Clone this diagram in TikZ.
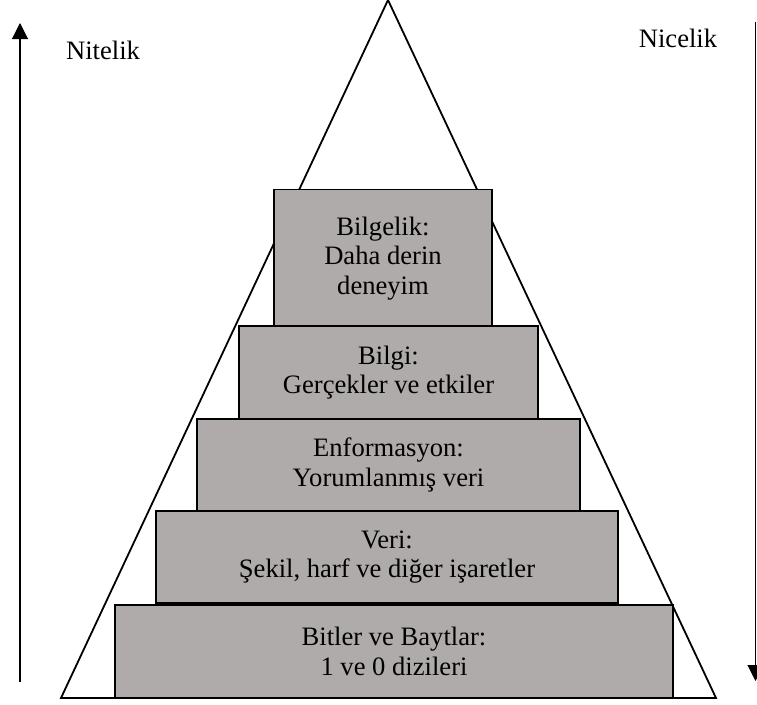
\documentclass[tikz,border=0pt]{standalone}
\usepackage{fontspec}
\setmainfont{Liberation Serif}
\usetikzlibrary{arrows.meta}
\definecolor{boxgray}{RGB}{175,171,171}
\begin{document}
\begin{tikzpicture}[x=1pt,y=-1pt,
  lvl/.style={draw=black, line width=1.6pt, fill=boxgray, inner sep=0pt, align=center,
    font=\fontsize{26.6}{29.5}\selectfont},
  lbl/.style={font=\fontsize{26.6}{29.5}\selectfont, inner sep=0pt},
  axis/.style={line width=1.1pt, -{Triangle[width=16pt,length=16pt]}}]
\useasboundingbox (0,0) rectangle (757,704);
\begin{scope}
\clip (0,0) rectangle (757,704);
% pyramid outline
\coordinate (apex) at (388,0);
\coordinate (bl) at (61,698);
\coordinate (br) at (716,698);
\draw[line width=1.8pt, line join=miter] (apex) -- (bl) -- (br) -- cycle;
% levels
\node[lvl, minimum width=218pt, minimum height=138pt] (bilgelik) at (383,258.5) {Bilgelik:\\Daha derin\\deneyim};
\node[lvl, minimum width=299pt, minimum height=93pt] (bilgi) at (388.5,372.5) {Bilgi:\\Gerçekler ve etkiler};
\node[lvl, minimum width=383pt, minimum height=92pt] (enf) at (388.5,465) {Enformasyon:\\Yorumlanmış veri};
\node[lvl, minimum width=462pt, minimum height=92pt] (veri) at (387,557) {Veri:\\Şekil, harf ve diğer işaretler};
\node[lvl, minimum width=558pt, minimum height=93pt] (bit) at (394,651.5) {Bitler ve Baytlar:\\1 ve 0 dizileri};
% axes
\coordinate (lbot) at (20,682);
\coordinate (ltop) at (20,23);
\draw[axis] (lbot) -- (ltop);
\coordinate (rtop) at (755.5,22);
\coordinate (rbot) at (755.5,681);
\draw[axis] (rtop) -- (rbot);
\node[lbl] (nitelik) at (103,50) {Nitelik};
\node[lbl] (nicelik) at (678,38) {Nicelik};
\end{scope}
\end{tikzpicture}
\end{document}
